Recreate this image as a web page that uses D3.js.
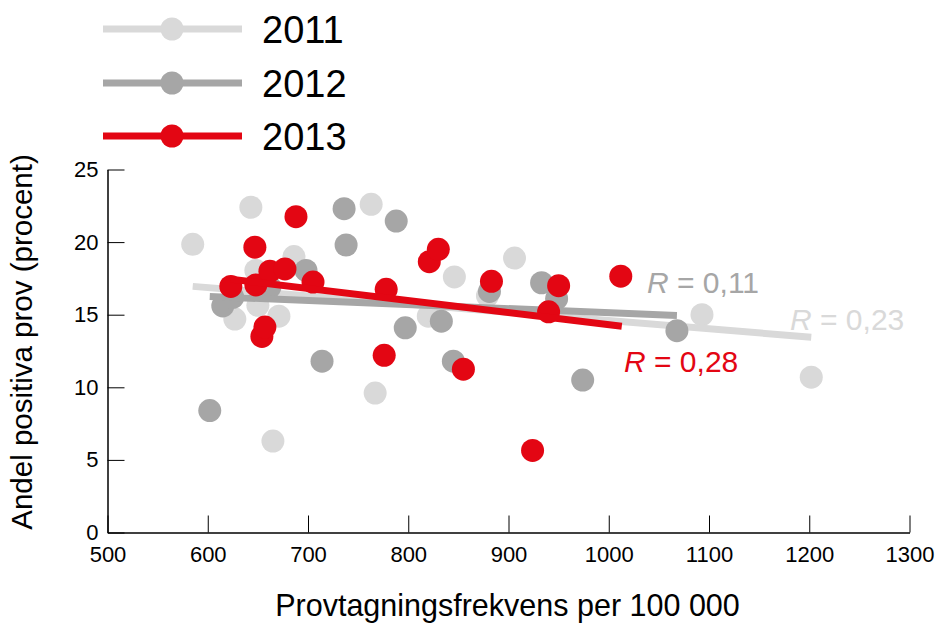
<!DOCTYPE html>
<html>
<head>
<meta charset="utf-8">
<script src="https://cdn.jsdelivr.net/npm/d3@7"></script>
<style>
  html, body { margin: 0; padding: 0; background: #fff; }
  svg { display: block; font-family: "Liberation Sans", Arial, sans-serif; }
</style>
</head>
<body>
<svg id="chart" width="936" height="623"></svg>
<script>
// ---- Data ----
const years = ["2011", "2012", "2013"];
const colors = ["#d9d9d9", "#a6a6a6", "#e30613"];

const x2011 = [585, 627, 643, 648, 650, 665, 671, 686, 763, 767, 820, 846, 879, 906, 1093, 1202];
const y2011 = [19.85, 14.7, 22.4, 18.05, 15.65, 6.3, 14.9, 19.0, 22.6, 9.6, 14.9, 17.6, 16.3, 18.9, 15.0, 10.7];

const x2012 = [602, 615, 625, 662, 698, 714, 736, 738, 788, 797, 833, 845, 881, 933, 948, 974, 1068];
const y2012 = [8.4, 15.6, 16.2, 16.9, 18.05, 11.8, 22.3, 19.8, 21.45, 14.1, 14.55, 11.8, 16.6, 17.2, 16.1, 10.5, 13.9];

const x2013 = [623, 647, 648, 654, 657, 662, 677, 688, 705, 776, 778, 821, 830, 855, 883, 924, 940, 950, 1012];
const y2013 = [16.95, 19.65, 17.05, 13.5, 14.15, 18.0, 18.15, 21.75, 17.25, 12.2, 16.75, 18.65, 19.5, 11.25, 17.3, 5.65, 15.2, 17.0, 17.65];

// trend line end points [x0, x1], [y0, y1]
const trendX2011 = [585, 1202], trendY2011 = [16.95, 13.45];
const trendX2012 = [602, 1068], trendY2012 = [16.25, 14.95];
const trendX2013 = [623, 1013], trendY2013 = [17.45, 14.2];

const rLabels = ["0,23", "0,11", "0,28"];

const xTicks = [500, 600, 700, 800, 900, 1000, 1100, 1200, 1300];
const yTicks = [0, 5, 10, 15, 20, 25];

const xTitle = "Provtagningsfrekvens per 100 000";
const yTitle = "Andel positiva prov (procent)";

// ---- Build ----
const svg = d3.select("#chart");
const x = d3.scaleLinear().domain([500, 1300]).range([107.5, 909.5]);
const y = d3.scaleLinear().domain([0, 25]).range([532.5, 169.5]);

const series = [
  { name: years[0], color: colors[0], xs: x2011, ys: y2011, tx: trendX2011, ty: trendY2011, r: rLabels[0], lx: 790, ly: 330 },
  { name: years[1], color: colors[1], xs: x2012, ys: y2012, tx: trendX2012, ty: trendY2012, r: rLabels[1], lx: 647, ly: 293 },
  { name: years[2], color: colors[2], xs: x2013, ys: y2013, tx: trendX2013, ty: trendY2013, r: rLabels[2], lx: 624, ly: 372 }
];

// Axes
const xAxis = d3.axisBottom(x).tickValues(xTicks).tickSize(-17).tickSizeOuter(0).tickPadding(14).tickFormat(d3.format("d"));
const yAxis = d3.axisLeft(y).tickValues(yTicks).tickSize(-17).tickSizeOuter(0).tickPadding(9).tickFormat(d3.format("d"));

const gx = svg.append("g").attr("transform", `translate(0,${y(0)})`).call(xAxis);
const gy = svg.append("g").attr("transform", `translate(${x(500)},0)`).call(yAxis);
[gx, gy].forEach(g => {
  g.selectAll("path.domain").attr("stroke", "#000").attr("stroke-width", 1.5);
  g.selectAll(".tick line").attr("stroke", "#000").attr("stroke-width", 1);
  g.selectAll(".tick text").attr("font-size", 22).attr("fill", "#000")
    .attr("font-family", "'Liberation Sans', Arial, sans-serif");
});

// Series
const plot = svg.append("g");
series.forEach(s => {
  const pts = s.xs.map((v, i) => [v, s.ys[i]]);
  plot.append("g").selectAll("circle").data(pts).join("circle")
    .attr("cx", d => x(d[0])).attr("cy", d => y(d[1])).attr("r", 11.5)
    .attr("fill", s.color);
  const line = d3.line().x(d => x(d[0])).y(d => y(d[1]));
  plot.append("path")
    .datum([[s.tx[0], s.ty[0]], [s.tx[1], s.ty[1]]])
    .attr("d", line).attr("fill", "none").attr("stroke", s.color).attr("stroke-width", 7);
});

// R labels
series.forEach(s => {
  const t = svg.append("text").attr("x", s.lx).attr("y", s.ly)
    .attr("font-size", 30).attr("fill", s.color);
  t.append("tspan").attr("font-style", "italic").text("R");
  t.append("tspan").text(" = " + s.r);
});

// Legend
const legY = [29, 83, 136];
series.forEach((s, i) => {
  const g = svg.append("g");
  g.append("line").attr("x1", 103).attr("x2", 242).attr("y1", legY[i]).attr("y2", legY[i])
    .attr("stroke", s.color).attr("stroke-width", 7);
  g.append("circle").attr("cx", 172).attr("cy", legY[i]).attr("r", 11.5).attr("fill", s.color);
  g.append("text").attr("x", 262).attr("y", legY[i] + 14).attr("font-size", 38).attr("fill", "#000").text(s.name);
});

// Axis titles
svg.append("text").attr("x", x(900) - 1).attr("y", 616).attr("text-anchor", "middle")
  .attr("font-size", 30.5).attr("fill", "#000").text(xTitle);
svg.append("text").attr("transform", `translate(32,${(y(0) + y(25)) / 2 - 9}) rotate(-90)`)
  .attr("text-anchor", "middle").attr("font-size", 29.5).attr("fill", "#000").text(yTitle);
</script>
</body>
</html>
